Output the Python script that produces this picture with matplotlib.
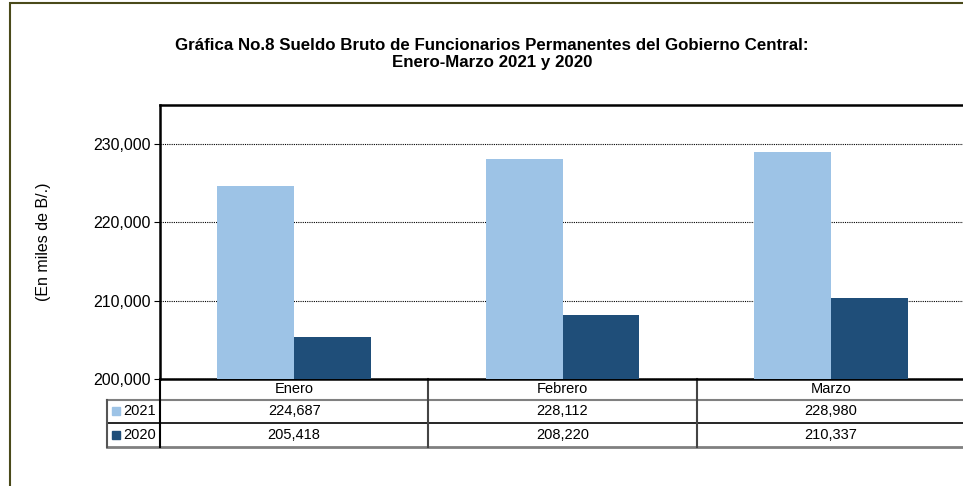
import numpy as np
import matplotlib.pyplot as plt
from matplotlib.lines import Line2D
from matplotlib.patches import Rectangle

plt.rcParams['font.family'] = ['Liberation Sans', 'DejaVu Sans']

meses = ['Enero', 'Febrero', 'Marzo']
series = ['2021', '2020']
valores_2021 = [224687, 228112, 228980]
valores_2020 = [205418, 208220, 210337]
colores = ['#9DC3E6', '#1F4E79']

fig = plt.figure(figsize=(9.63, 4.86), dpi=100)
ax = fig.add_axes([160 / 963, 1 - 379 / 486, 805 / 963, 274 / 486])

x = np.arange(len(meses))
w = 0.286
ax.bar(x - w / 2, valores_2021, w, color=colores[0], zorder=3)
ax.bar(x + w / 2, valores_2020, w, color=colores[1], zorder=3)

ax.set_xlim(-0.5, 2.5)
ax.set_ylim(200000, 235000)
ax.set_yticks([200000, 210000, 220000, 230000])
ax.set_yticklabels(['{:,}'.format(v) for v in [200000, 210000, 220000, 230000]], fontsize=11.5)
ax.yaxis.grid(True, linestyle=(0, (1, 1)), color='black', linewidth=0.8)
ax.set_xticks([])
ax.tick_params(axis='y', length=4, width=0.8, pad=3)
for s in ['left', 'top', 'bottom']:
    ax.spines[s].set_linewidth(1.8)
ax.spines['right'].set_visible(False)
ax.set_ylabel('(En miles de B/.)', fontsize=11.5, labelpad=30)

# tabla de datos bajo el eje
tr = ax.get_xaxis_transform()
y_rows = [0, -0.0766, -0.1606, -0.248]
x_left = -0.698
x_bounds = [-0.5, 0.5, 1.5, 2.5]
grey = '#808080'
for yy, c, lw, x0 in [(y_rows[1], grey, 1.5, x_left), (y_rows[2], 'black', 1.2, x_left),
                      (y_rows[3], grey, 2.0, x_left)]:
    ax.add_line(Line2D([x0, 2.6], [yy, yy], transform=tr, color=c, lw=lw, clip_on=False))
ax.add_line(Line2D([-0.5, -0.5], [0, y_rows[3]], transform=tr, color='black', lw=1.5, clip_on=False))
ax.add_line(Line2D([x_left, x_left], [y_rows[1], y_rows[3]], transform=tr, color='#555555', lw=1.5, clip_on=False))
for xb in x_bounds[1:3]:
    ax.add_line(Line2D([xb, xb], [0, y_rows[3]], transform=tr, color='#444444', lw=1.5, clip_on=False))

def mid(i):
    return (y_rows[i] + y_rows[i + 1]) / 2

for i, m in enumerate(meses):
    ax.text(i, mid(0), m, transform=tr, ha='center', va='center', fontsize=10.5)
    ax.text(i, mid(1), '{:,}'.format(valores_2021[i]), transform=tr, ha='center', va='center', fontsize=10.5)
    ax.text(i, mid(2), '{:,}'.format(valores_2020[i]), transform=tr, ha='center', va='center', fontsize=10.5)

for j, (nombre, col) in enumerate(zip(series, colores)):
    ax.plot([x_left + 0.035], [mid(j + 1)], marker='s', markersize=6, color=col,
            transform=tr, clip_on=False, linestyle='none')
    ax.text(x_left + 0.06, mid(j + 1), nombre, transform=tr, ha='left', va='center', fontsize=10.5)

fig.text(0.511, 1 - 45 / 486, 'Gráfica No.8 Sueldo Bruto de Funcionarios Permanentes del Gobierno Central:',
         ha='center', va='center', fontsize=12.2, fontweight='bold')
fig.text(0.511, 1 - 63 / 486, 'Enero-Marzo 2021 y 2020',
         ha='center', va='center', fontsize=12.2, fontweight='bold')

# marco exterior
fig.patches.append(Rectangle((10 / 963, -0.1), 1.2, 1 - 3 / 486 + 0.1, transform=fig.transFigure,
                             fill=False, edgecolor='#4a4a1a', linewidth=1.5))

fig.savefig('out.png', dpi=100)
